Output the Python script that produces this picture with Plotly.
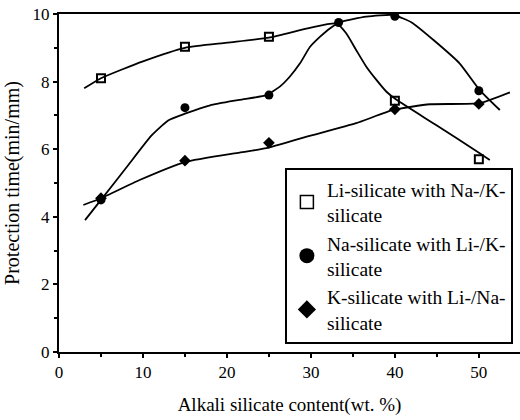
import plotly.graph_objects as go

# measured data points
li_x = [5, 15, 25, 40, 50]
li_y = [8.1, 9.03, 9.33, 7.43, 5.7]
na_x = [5, 15, 25, 33.3, 40, 50]
na_y = [4.5, 7.23, 7.6, 9.75, 9.93, 7.73]
k_x = [5, 15, 25, 40, 50]
k_y = [4.55, 5.66, 6.19, 7.18, 7.34]

# fitted curves
li_cx = [3, 5, 10, 15, 20, 25, 30, 33, 34.2, 35.4, 36.6, 37.8, 39.0, 40.2, 45, 50.1, 51.3]
li_cy = [7.8, 8.1, 8.6, 9.0, 9.15, 9.3, 9.6, 9.72, 9.43, 8.93, 8.44, 8.05, 7.7, 7.46, 6.7, 5.88, 5.68]
na_cx = [3.1, 5, 8, 11, 13, 15, 18, 21.5, 24.7, 26.3, 27.5, 28.7, 29.9, 31.1, 32.3, 33.5, 36.6, 39.8, 42, 44.6, 47.7, 50.1, 52.5]
na_cy = [3.9, 4.5, 5.45, 6.4, 6.85, 7.05, 7.3, 7.46, 7.6, 7.85, 8.15, 8.54, 9.03, 9.33, 9.58, 9.76, 9.92, 9.97, 9.75, 9.23, 8.54, 7.75, 7.16]
k_cx = [2.9, 5, 9.6, 15, 21.5, 24.7, 29.5, 35.4, 39.8, 44.2, 50.1, 53.7]
k_cy = [4.35, 4.55, 5.09, 5.62, 5.9, 6.03, 6.37, 6.77, 7.16, 7.33, 7.36, 7.68]

x_ticks = [0, 10, 20, 30, 40, 50]
y_ticks = [0, 2, 4, 6, 8, 10]

FONT = "Liberation Serif"
line_style = dict(color="black", width=1.8, shape="spline", smoothing=0.5)

fig = go.Figure()
for cx, cy in [(li_cx, li_cy), (na_cx, na_cy), (k_cx, k_cy)]:
    fig.add_trace(go.Scatter(x=cx, y=cy, mode="lines", line=line_style,
                             showlegend=False, hoverinfo="skip"))

fig.add_trace(go.Scatter(x=li_x, y=li_y, mode="markers", showlegend=False,
                         marker=dict(symbol="square-open", size=8, color="black",
                                     line=dict(width=2, color="black"))))
fig.add_trace(go.Scatter(x=na_x, y=na_y, mode="markers", showlegend=False,
                         marker=dict(symbol="circle", size=9, color="black")))
fig.add_trace(go.Scatter(x=k_x, y=k_y, mode="markers", showlegend=False,
                         marker=dict(symbol="diamond", size=9, color="black")))

# legend entries (larger symbols, as in the reference)
fig.add_trace(go.Scatter(x=[None], y=[None], mode="markers",
                         name="Li-silicate with Na-/K-<br>silicate",
                         marker=dict(symbol="square-open", size=13, color="black",
                                     line=dict(width=1.5, color="black"))))
fig.add_trace(go.Scatter(x=[None], y=[None], mode="markers",
                         name="Na-silicate with Li-/K-<br>silicate",
                         marker=dict(symbol="circle", size=15, color="black")))
fig.add_trace(go.Scatter(x=[None], y=[None], mode="markers",
                         name="K-silicate with Li-/Na-<br>silicate",
                         marker=dict(symbol="diamond", size=14, color="black")))

axis_common = dict(showgrid=False, zeroline=False, showline=True, linecolor="black",
                   linewidth=2, ticks="outside", tickcolor="black", tickwidth=2,
                   ticklen=4, tickfont=dict(family=FONT, size=17, color="black"))

fig.update_xaxes(range=[0, 54.9], tickvals=x_ticks, mirror=True,
                 minor=dict(dtick=5, ticks="outside", ticklen=3, tickcolor="black", tickwidth=1.5),
                 title=dict(text="Alkali silicate content(wt. %)",
                            font=dict(family=FONT, size=19, color="black"), standoff=16),
                 **axis_common)
fig.update_yaxes(range=[0, 10], tickvals=y_ticks,
                 minor=dict(dtick=1, ticks="outside", ticklen=3, tickcolor="black", tickwidth=1.5),
                 title=dict(text="Protection time(min/mm)",
                            font=dict(family=FONT, size=20, color="black"), standoff=8),
                 **axis_common)

fig.update_layout(
    width=520, height=420,
    margin=dict(l=59, r=0, t=14, b=68),
    plot_bgcolor="white", paper_bgcolor="white",
    legend=dict(x=0.49, y=0.544, xanchor="left", yanchor="top",
                bgcolor="white", bordercolor="black", borderwidth=2,
                font=dict(family=FONT, size=19.5, color="black"),
                itemsizing="trace", tracegroupgap=0, itemwidth=30),
)

fig.write_html("out.html")
